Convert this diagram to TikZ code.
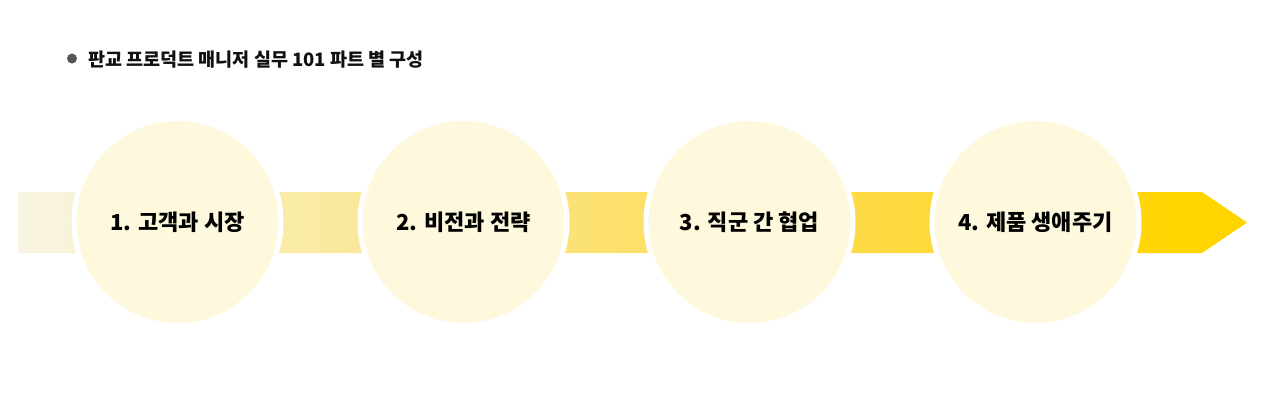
\documentclass[tikz,border=0pt]{standalone}
\usepackage{fontspec}
\newfontfamily\kr{Noto Sans CJK KR}
\usetikzlibrary{shapes.geometric}
\definecolor{circfill}{HTML}{FEF8DC}
\definecolor{bullet}{HTML}{555555}
\definecolor{titletext}{HTML}{111111}
\definecolor{bandA}{HTML}{F8F4E3}
\definecolor{bandB}{HTML}{FAEAA0}
\definecolor{bandC}{HTML}{FCE06A}
\definecolor{bandD}{HTML}{FED93A}
\definecolor{bandE}{HTML}{FFD500}
\pgfdeclarehorizontalshading{bandshade}{100bp}{
  color(0bp)=(bandA);
  color(25bp)=(bandA);
  color(37.5bp)=(bandB);
  color(50bp)=(bandC);
  color(62.5bp)=(bandD);
  color(72bp)=(bandE);
  color(100bp)=(bandE)}
\tikzset{
  stage/.style={circle, fill=circfill, draw=white, line width=5pt,
    minimum size=207pt, inner sep=0pt, font=\kr\bfseries\fontsize{22}{26}\selectfont, text=black},
  titlelabel/.style={anchor=west, inner sep=0pt, font=\kr\bfseries\fontsize{18.5}{22}\selectfont, text=titletext}
}
\begin{document}
\begin{tikzpicture}[x=1pt,y=-1pt]
\useasboundingbox (0,0) rectangle (1280,416);
% band with arrow head
\shade[shading=bandshade] (18,192) -- (1202,192) -- (1247,222.5) -- (1202,253) -- (18,253) -- cycle;
% title
\fill[bullet] (72,58.5) circle (5);
\node[titlelabel] (title) at (88,59.5) {판교 프로덕트 매니저 실무 101 파트 별 구성};
% stages
\node[stage] (s1) at (177.5,222) {1. 고객과 시장};
\node[stage] (s2) at (463.5,222) {2. 비전과 전략};
\node[stage] (s3) at (749.5,222) {3. 직군 간 협업};
\node[stage] (s4) at (1035.5,222) {4. 제품 생애주기};
\end{tikzpicture}
\end{document}
